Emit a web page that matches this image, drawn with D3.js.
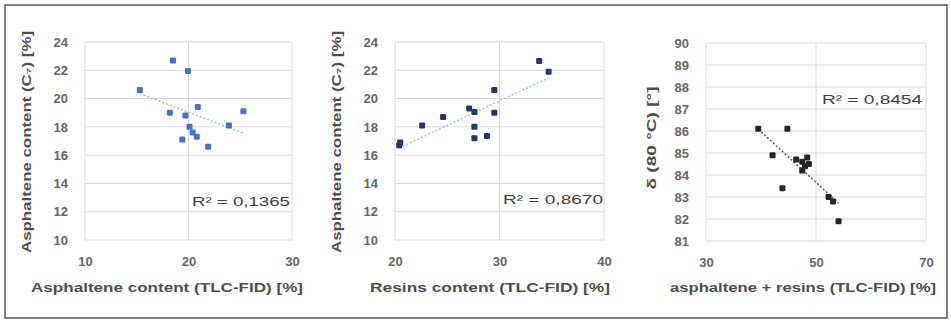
<!DOCTYPE html>
<html>
<head>
<meta charset="utf-8">
<script src="https://cdn.jsdelivr.net/npm/d3@7"></script>
<style>
  html, body { margin: 0; padding: 0; background: #fff; }
  svg { display: block; font-family: "Liberation Sans", Arial, sans-serif; }
</style>
</head>
<body>
<svg id="chart" width="951" height="321"></svg>
<script>
// ---- data ----
const asphX  = [18.5, 19.95, 15.3, 20.9, 18.2, 19.7, 25.3, 23.9, 20.1, 20.4, 20.8, 19.4, 21.9];
const asphY  = [22.7, 21.95, 20.6, 19.4, 19.0, 18.8, 19.1, 18.1, 18.0, 17.6, 17.3, 17.1, 16.6];
const resinX = [33.8, 34.7, 29.5, 27.1, 27.6, 29.5, 24.6, 22.6, 27.6, 27.6, 28.8, 20.5, 20.4];
const resinY = [22.66, 21.9, 20.6, 19.3, 19.05, 19.0, 18.7, 18.1, 18.0, 17.2, 17.35, 16.9, 16.7];
const sumX   = [39.5, 44.8, 42.1, 43.9, 52.3, 53.1, 54.1, 46.4, 47.5, 48.4, 48.0, 47.5, 48.7];
const sumY   = [86.1, 86.1, 84.9, 83.4, 83.0, 82.8, 81.9, 84.7, 84.6, 84.8, 84.4, 84.2, 84.5];

const xTicks1 = [10, 20, 30];
const xTicks2 = [20, 30, 40];
const xTicks3 = [30, 50, 70];
const yTicksC7 = [10, 12, 14, 16, 18, 20, 22, 24];
const yTicksDelta = [81, 82, 83, 84, 85, 86, 87, 88, 89, 90];

const r2Labels = ["R² = 0,1365", "R² = 0,8670", "R² = 0,8454"];
const xTitles = ["Asphaltene content (TLC-FID) [%]", "Resins content (TLC-FID) [%]", "asphaltene + resins (TLC-FID) [%]"];
const yTitles = ["Asphaltene content (C\u2087) [%]", "Asphaltene content (C\u2087) [%]", "\u03B4 (80 °C) [°]"];

// ---- layout ----
const svg = d3.select("#chart");
svg.append("rect").attr("x", 5).attr("y", 5).attr("width", 942).attr("height", 313)
  .attr("fill", "none").attr("stroke", "#595959").attr("stroke-width", 1.5);

const panels = [
  { xs: asphX, ys: asphY, xd: [10, 30], xr: [85, 292], yd: [10, 24], yr: [240, 42], xt: xTicks1, yt: yTicksC7,
    mark: "#4472C4", trend: "#9DBDE6", r2: r2Labels[0], r2x: 290, r2y: 206, r2w: 98,
    xTitle: xTitles[0], xTitleX: 167, xTitleW: 272, yTitle: yTitles[0], yTitleX: 26, yTitleY: 142, yTitleW: 222 },
  { xs: resinX, ys: resinY, xd: [20, 40], xr: [395, 604], yd: [10, 24], yr: [240, 42], xt: xTicks2, yt: yTicksC7,
    mark: "#1F3864", trend: "#9DBDE6", r2: r2Labels[1], r2x: 603, r2y: 204, r2w: 100,
    xTitle: xTitles[1], xTitleX: 490, xTitleW: 240, yTitle: yTitles[1], yTitleX: 336, yTitleY: 142, yTitleW: 222 },
  { xs: sumX, ys: sumY, xd: [30, 70], xr: [706, 926], yd: [81, 90], yr: [241, 43], xt: xTicks3, yt: yTicksDelta,
    mark: "#262626", trend: "#595959", r2: r2Labels[2], r2x: 922, r2y: 104, r2w: 100,
    xTitle: xTitles[2], xTitleX: 803, xTitleW: 266, yTitle: yTitles[2], yTitleX: 651, yTitleY: 138, yTitleW: 103 }
];

panels.forEach(p => {
  const x = d3.scaleLinear().domain(p.xd).range(p.xr);
  const y = d3.scaleLinear().domain(p.yd).range(p.yr);
  const g = svg.append("g");

  // horizontal gridlines
  g.selectAll("line.hg").data(p.yt).join("line")
    .attr("x1", p.xr[0]).attr("x2", p.xr[1])
    .attr("y1", d => y(d)).attr("y2", d => y(d))
    .attr("stroke", "#D9D9D9").attr("stroke-width", 1);
  // vertical gridlines
  g.selectAll("line.vg").data(p.xt).join("line")
    .attr("x1", d => x(d)).attr("x2", d => x(d))
    .attr("y1", p.yr[0]).attr("y2", p.yr[1])
    .attr("stroke", "#D9D9D9").attr("stroke-width", 1);

  // axes (labels only, using d3 axes)
  const xAxis = g.append("g").attr("transform", `translate(0,${p.yr[0]})`)
    .call(d3.axisBottom(x).tickValues(p.xt).tickSize(0).tickPadding(17).tickFormat(d3.format("d")));
  const yAxis = g.append("g").attr("transform", `translate(${p.xr[0]},0)`)
    .call(d3.axisLeft(y).tickValues(p.yt).tickSize(0).tickPadding(17).tickFormat(d3.format("d")));
  [xAxis, yAxis].forEach(a => {
    a.select(".domain").remove();
    a.selectAll("text").attr("fill", "#666666").attr("font-size", 13).attr("font-weight", "bold")
      .attr("font-family", "'Liberation Sans', Arial, sans-serif");
  });

  // trendline (least squares)
  const n = p.xs.length;
  const mx = d3.mean(p.xs), my = d3.mean(p.ys);
  let sxy = 0, sxx = 0;
  for (let i = 0; i < n; i++) { sxy += (p.xs[i] - mx) * (p.ys[i] - my); sxx += (p.xs[i] - mx) ** 2; }
  const b = sxy / sxx, a0 = my - b * mx;
  const [xmin, xmax] = d3.extent(p.xs);
  g.append("line")
    .attr("x1", x(xmin)).attr("y1", y(a0 + b * xmin))
    .attr("x2", x(xmax)).attr("y2", y(a0 + b * xmax))
    .attr("stroke", p.trend).attr("stroke-width", 1.5).attr("stroke-dasharray", "2,2");

  // points
  g.selectAll("rect.pt").data(d3.range(n)).join("rect")
    .attr("x", i => x(p.xs[i]) - 3).attr("y", i => y(p.ys[i]) - 3)
    .attr("width", 6).attr("height", 6).attr("rx", 1.2)
    .attr("fill", p.mark);

  // R² label
  g.append("text").attr("x", p.r2x).attr("y", p.r2y).attr("text-anchor", "end")
    .attr("font-size", 13).attr("fill", "#404040")
    .attr("textLength", p.r2w).attr("lengthAdjust", "spacingAndGlyphs")
    .text(p.r2);

  // axis titles
  g.append("text").attr("x", p.xTitleX).attr("y", 292).attr("text-anchor", "middle")
    .attr("font-size", 13).attr("font-weight", "bold").attr("fill", "#4d4d4d")
    .attr("textLength", p.xTitleW).attr("lengthAdjust", "spacingAndGlyphs")
    .text(p.xTitle);
  g.append("text").attr("transform", `translate(${p.yTitleX},${p.yTitleY}) rotate(-90)`)
    .attr("text-anchor", "middle").attr("dy", "0.35em")
    .attr("font-size", 13).attr("font-weight", "bold").attr("fill", "#4d4d4d")
    .attr("textLength", p.yTitleW).attr("lengthAdjust", "spacingAndGlyphs")
    .text(p.yTitle);
});
</script>
</body>
</html>
